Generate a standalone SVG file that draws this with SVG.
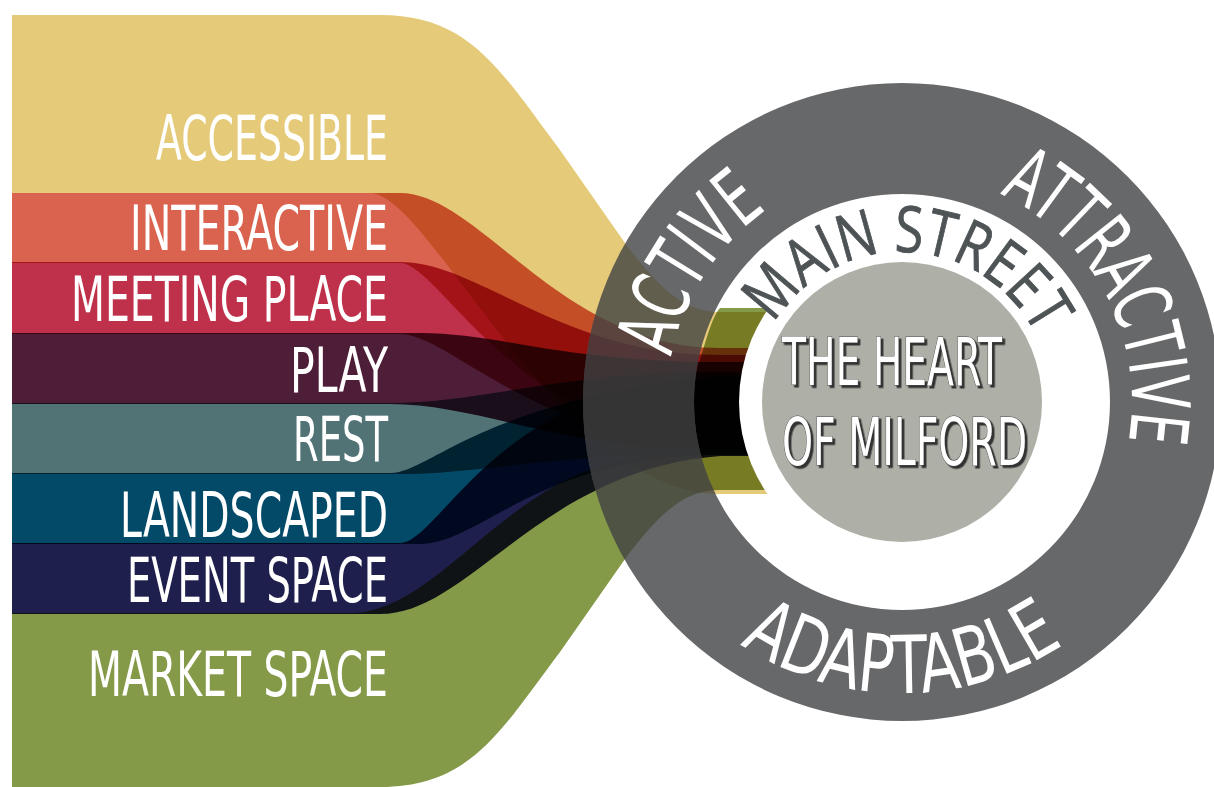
<svg xmlns="http://www.w3.org/2000/svg" width="1214" height="787" viewBox="0 0 1214 787">
<defs>
<style>
.band{mix-blend-mode:multiply}
.lbl{font-family:"Liberation Sans Narrow","DejaVu Sans Condensed","Liberation Sans",Arial,sans-serif;font-size:63px;fill:#fff;text-anchor:end}
.ringtxt{font-family:"Liberation Sans Narrow","DejaVu Sans Condensed","Liberation Sans",Arial,sans-serif;font-size:80px;fill:#fff}
.street{font-family:"Open Sans","Liberation Sans","DejaVu Sans",Arial,sans-serif;font-size:64px;fill:#4e5356;stroke:#4e5356;stroke-width:0.9px}
.heart{font-family:"Liberation Sans Narrow","DejaVu Sans Condensed","Liberation Sans",Arial,sans-serif;font-size:65px;fill:#fff;stroke:#4a4a4a;stroke-width:1.2px;paint-order:stroke;filter:url(#shadow)}
</style>
<filter id="shadow" x="-10%" y="-20%" width="130%" height="150%">
<feDropShadow dx="2.5" dy="2.5" stdDeviation="0.4" flood-color="#333333" flood-opacity="1"/>
</filter>
<clipPath id="ringClip">
<path clip-rule="evenodd" d="M583,402 A319,319 0 1,1 1221,402 A319,319 0 1,1 583,402 Z M694,402 A208,208 0 1,0 1110,402 A208,208 0 1,0 694,402 Z"/>
</clipPath>
<path id="arcActive" d="M668.8,430.6 A235,235 0 0,1 833.3,177.3"/>
<path id="arcStreet" d="M763.4,344.6 A150,150 0 0,1 1045.1,356.9"/>
<path id="arcAttractive" d="M990.0,189.5 A230,230 0 0,1 1126.5,451.8"/>
<path id="arcAdaptable" d="M696.2,607.8 A291,291 0 0,0 1107.8,607.8"/>
</defs>
<rect x="0" y="0" width="1214" height="787" fill="#ffffff"/>

<g id="connectors">
<g id="flows">
<path id="flow-accessible" class="band" fill="#E5CB79" d="M12,15 H380 C470,15 500,70 560,150 L625,243 C665,297 690,312 720,312 H790 V494 H720 C560,494 430,193 370,193 H12 Z"/>
<path id="flow-interactive" class="band" fill="#DA634F" d="M12,193 H400 C480,193 560,348 720,348 H790 V440 H720 C520,440 440,263 400,263 H12 Z"/>
<path id="flow-meeting" class="band" fill="#BF304B" d="M12,262 H400 C480,262 560,355 720,355 H790 V445 H720 C540,445 450,334 400,334 H12 Z"/>
<path id="flow-play" class="band" fill="#4E1D37" d="M12,333 H420 C500,333 560,362 720,362 H790 V450 H720 C560,450 480,404 390,404 H12 Z"/>
<path id="flow-rest" class="band" fill="#527376" d="M12,403 H390 C480,403 560,372 720,372 H790 V453 H720 C560,453 480,474 400,474 H12 Z"/>
<path id="flow-landscaped" class="band" fill="#034A68" d="M12,473 H390 C430,473 480,400 720,376 H790 V455 H720 C540,455 480,544 420,544 H12 Z"/>
<path id="flow-event" class="band" fill="#1F1F4E" d="M12,543 H400 C440,543 500,378 720,378 H790 V456 H720 C540,470 470,614 380,614 H12 Z"/>
<path id="flow-market" class="band" fill="#849A48" d="M12,613 H350 C440,613 510,470 640,458 C690,452 700,330 720,308 H790 V490 H720 C690,490 665,505 625,559 L560,652 C500,732 470,787 380,787 H12 Z"/>
</g>
</g>

<g id="hub">
<path id="ring" fill="#67686A" fill-rule="evenodd" d="M583,402 A319,319 0 1,1 1221,402 A319,319 0 1,1 583,402 Z M694,402 A208,208 0 1,0 1110,402 A208,208 0 1,0 694,402 Z"/>
<use href="#flows" clip-path="url(#ringClip)" style="mix-blend-mode:multiply;opacity:0.5"/>
<circle cx="902" cy="402" r="163" fill="#ffffff"/>
<circle id="heart-circle" cx="902" cy="402" r="140" fill="#AEB0A7"/>
</g>

<g id="node-active"><text class="ringtxt"><textPath href="#arcActive" startOffset="50%" text-anchor="middle" textLength="180" lengthAdjust="spacingAndGlyphs">ACTIVE</textPath></text></g>
<g id="node-attractive"><text class="ringtxt"><textPath href="#arcAttractive" startOffset="50%" text-anchor="middle" textLength="300" lengthAdjust="spacingAndGlyphs">ATTRACTIVE</textPath></text></g>
<g id="node-adaptable"><text class="ringtxt"><textPath href="#arcAdaptable" startOffset="50%" text-anchor="middle" textLength="343" lengthAdjust="spacingAndGlyphs">ADAPTABLE</textPath></text></g>
<g id="node-main-street"><text class="street"><textPath href="#arcStreet" startOffset="50%" text-anchor="middle" textLength="320" lengthAdjust="spacingAndGlyphs">MAIN STREET</textPath></text></g>
<g id="node-heart">
<text class="heart" x="782" y="385" textLength="220" lengthAdjust="spacingAndGlyphs">THE HEART</text>
<text class="heart" x="782" y="465" textLength="245" lengthAdjust="spacingAndGlyphs">OF MILFORD</text>
</g>

<g id="node-accessible"><text class="lbl" x="388" y="160" textLength="232" lengthAdjust="spacingAndGlyphs">ACCESSIBLE</text></g>
<g id="node-interactive"><text class="lbl" x="388" y="250" textLength="258" lengthAdjust="spacingAndGlyphs">INTERACTIVE</text></g>
<g id="node-meeting"><text class="lbl" x="388" y="321" textLength="317" lengthAdjust="spacingAndGlyphs">MEETING PLACE</text></g>
<g id="node-play"><text class="lbl" x="388" y="392" textLength="98" lengthAdjust="spacingAndGlyphs">PLAY</text></g>
<g id="node-rest"><text class="lbl" x="388" y="461" textLength="95" lengthAdjust="spacingAndGlyphs">REST</text></g>
<g id="node-landscaped"><text class="lbl" x="388" y="537" textLength="268" lengthAdjust="spacingAndGlyphs">LANDSCAPED</text></g>
<g id="node-event"><text class="lbl" x="388" y="602" textLength="261" lengthAdjust="spacingAndGlyphs">EVENT SPACE</text></g>
<g id="node-market"><text class="lbl" x="388" y="696" textLength="300" lengthAdjust="spacingAndGlyphs">MARKET SPACE</text></g>
</svg>
